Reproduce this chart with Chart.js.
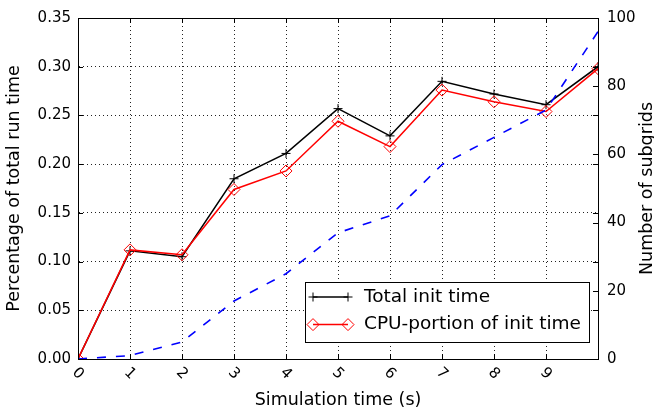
<!DOCTYPE html>
<html>
<head>
<meta charset="utf-8">
<script src="https://cdn.jsdelivr.net/npm/chart.js@4.4.1/dist/chart.umd.min.js"></script>
<style>
  html,body{margin:0;padding:0;background:#fff}
  canvas{display:block}
</style>
</head>
<body>
<canvas id="chart" width="654" height="411"></canvas>
<script>
// Data
const simTime = [0, 1, 2, 3, 4, 5, 6, 7, 8, 9, 10];
const totalInit = [0, 0.111, 0.105, 0.185, 0.211, 0.257, 0.229, 0.285, 0.272, 0.261, 0.300];
const cpuInit = [0, 0.112, 0.107, 0.174, 0.193, 0.244, 0.218, 0.276, 0.264, 0.254, 0.298];
const subgrids = [0, 1, 5, 17, 25, 37, 42, 57, 65, 73, 96];

const xTickLabels = ['0','1','2','3','4','5','6','7','8','9'];
const yLeftTicks = [0, 0.05, 0.10, 0.15, 0.20, 0.25, 0.30, 0.35];
const yRightTicks = [0, 20, 40, 60, 80, 100];

const FONT = '"DejaVu Sans", "Liberation Sans", sans-serif';
Chart.defaults.font.family = FONT;
Chart.defaults.color = '#000';

const toPoints = ys => simTime.map((x, i) => ({x, y: ys[i]}));

// inward tick marks, frame, rotated x labels, right title, legend
const decor = {
  id: 'decor',
  afterDraw(chart){
    const {ctx, chartArea: a} = chart;
    const xs = chart.scales.x, yl = chart.scales.y, yr = chart.scales.y2;
    const TL = 5;
    ctx.save();
    ctx.strokeStyle = '#000';
    ctx.lineWidth = 1;
    ctx.strokeRect(Math.round(a.left)+0.5, Math.round(a.top)+0.5, Math.round(a.right-a.left), Math.round(a.bottom-a.top));
    ctx.beginPath();
    simTime.forEach(v=>{
      const px = Math.round(xs.getPixelForValue(v))+0.5;
      ctx.moveTo(px, a.bottom); ctx.lineTo(px, a.bottom-TL);
      ctx.moveTo(px, a.top); ctx.lineTo(px, a.top+TL);
    });
    yLeftTicks.forEach(v=>{
      const py = Math.round(yl.getPixelForValue(v))+0.5;
      ctx.moveTo(a.left, py); ctx.lineTo(a.left+TL, py);
      ctx.moveTo(a.right, py); ctx.lineTo(a.right-TL, py);
    });
    yRightTicks.forEach(v=>{
      const py = Math.round(yr.getPixelForValue(v))+0.5;
      ctx.moveTo(a.right, py); ctx.lineTo(a.right-TL, py);
    });
    ctx.stroke();

    // x tick labels, rotated clockwise
    ctx.fillStyle = '#000';
    ctx.font = '15px ' + FONT;
    ctx.textAlign = 'center';
    ctx.textBaseline = 'middle';
    xTickLabels.forEach((lab, i)=>{
      ctx.save();
      ctx.translate(xs.getPixelForValue(simTime[i]), a.bottom + 14.5);
      ctx.rotate(Math.PI/4);
      ctx.fillText(lab, 0, 0);
      ctx.restore();
    });

    // right axis title, reading bottom to top
    ctx.save();
    ctx.font = '17.5px ' + FONT;
    ctx.translate(647, (a.top + a.bottom)/2);
    ctx.rotate(-Math.PI/2);
    ctx.fillText('Number of subgrids', 0, 0);
    ctx.restore();

    // legend
    const x0 = a.right - 293, y0 = a.bottom - 77, w = 284, h = 60;
    ctx.fillStyle = '#fff';
    ctx.fillRect(x0, y0, w, h);
    ctx.strokeRect(Math.round(x0)+0.5, Math.round(y0)+0.5, w, h);
    const items = chart.data.datasets.slice(0, 2);
    items.forEach((ds, i)=>{
      const y = y0 + 15 + i*27.6;
      const xa = x0 + 8, xb = x0 + 43;
      ctx.strokeStyle = ds.borderColor;
      ctx.lineWidth = ds.borderWidth;
      ctx.beginPath(); ctx.moveTo(xa, y); ctx.lineTo(xb, y); ctx.stroke();
      ctx.lineWidth = 1;
      [xa, xb].forEach(mx=>{
        const r = ds.pointRadius;
        ctx.beginPath();
        if(ds.pointStyle === 'cross'){
          ctx.moveTo(mx-r, y); ctx.lineTo(mx+r, y);
          ctx.moveTo(mx, y-r); ctx.lineTo(mx, y+r);
        } else {
          ctx.moveTo(mx-r, y); ctx.lineTo(mx, y-r); ctx.lineTo(mx+r, y); ctx.lineTo(mx, y+r); ctx.closePath();
        }
        ctx.stroke();
      });
      ctx.fillStyle = '#000';
      ctx.font = '18.5px ' + FONT;
      ctx.textAlign = 'left';
      ctx.textBaseline = 'middle';
      ctx.fillText(ds.label, x0 + 59, y);
    });
    ctx.restore();
  }
};

new Chart(document.getElementById('chart'), {
  type: 'line',
  data: {
    datasets: [
      {
        label: 'Total init time',
        data: toPoints(totalInit),
        borderColor: '#000', borderWidth: 1.5,
        pointStyle: 'cross', pointRadius: 4.5,
        pointBorderColor: '#000', pointBackgroundColor: '#000', pointBorderWidth: 1,
        yAxisID: 'y', order: 2
      },
      {
        label: 'CPU-portion of init time',
        data: toPoints(cpuInit),
        borderColor: '#ff0000', borderWidth: 1.5,
        pointStyle: 'rectRot', pointRadius: 6,
        pointBorderColor: '#ff0000', pointBackgroundColor: 'rgba(0,0,0,0)', pointBorderWidth: 1,
        yAxisID: 'y', order: 1
      },
      {
        label: 'Number of subgrids',
        data: toPoints(subgrids),
        borderColor: '#0000ff', borderWidth: 1.6,
        borderDash: [9, 10],
        pointRadius: 0,
        yAxisID: 'y2', order: 0
      }
    ]
  },
  options: {
    responsive: false,
    animation: false,
    devicePixelRatio: 1,
    layout: {padding: {top: 12, left: 0, right: 0, bottom: 0}},
    plugins: {legend: {display: false}, tooltip: {enabled: false}},
    scales: {
      x: {
        type: 'linear', min: 0, max: 10,
        afterBuildTicks: s => { s.ticks = simTime.map(v => ({value: v})); },
        afterFit: s => { s.height = 52; },
        ticks: {display: false},
        grid: {color: '#222', lineWidth: 1, drawTicks: false},
        border: {color: '#000', width: 1, dash: [1, 3]},
        title: {display: true, text: 'Simulation time (s)', font: {size: 17.5}, color: '#000', padding: 0}
      },
      y: {
        position: 'left', min: 0, max: 0.35,
        afterBuildTicks: s => { s.ticks = yLeftTicks.map(v => ({value: v})); },
        afterFit: s => { s.width = 78; },
        ticks: {padding: 7, font: {size: 15}, color: '#000', callback: v => v.toFixed(2)},
        grid: {color: '#222', lineWidth: 1, drawTicks: false},
        border: {color: '#000', width: 1, dash: [1, 3]},
        title: {display: true, text: 'Percentage of total run time', font: {size: 17.5}, color: '#000', padding: {top: 4}}
      },
      y2: {
        position: 'right', min: 0, max: 100,
        afterBuildTicks: s => { s.ticks = yRightTicks.map(v => ({value: v})); },
        afterFit: s => { s.width = 56; },
        ticks: {padding: 9, font: {size: 15}, color: '#000'},
        grid: {display: false, drawTicks: false},
        border: {color: '#000', width: 1}
      }
    }
  },
  plugins: [decor]
});
</script>
</body>
</html>
